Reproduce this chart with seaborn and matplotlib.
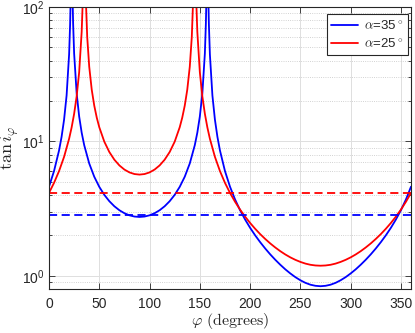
import matplotlib
matplotlib.use('Agg')
import matplotlib.pyplot as plt
import matplotlib.ticker as mticker
import seaborn as sns

# angle phi (degrees) and tan(i_phi), alpha = 35 deg
phi_blue = [0, 5, 10, 12.5, 15, 17.5, 20, 21, 21.5, 23.5, 24, 25, 27.5, 30, 32.5, 35,
            40, 45, 50, 55, 60, 65, 70, 75, 80, 85, 90, 95, 100, 105, 110, 115, 120,
            125, 130, 135, 140, 145, 147.5, 150, 152.5, 155, 156, 156.5, 158.5, 159,
            160, 162.5, 165, 167.5, 170, 175, 180, 185, 190, 195, 200, 205, 210, 215,
            220, 225, 230, 235, 240, 245, 250, 255, 260, 265, 270, 275, 280, 285, 290,
            295, 300, 305, 310, 315, 320, 325, 330, 335, 340, 345, 350, 355, 360]
tan_blue = [4.610, 6.026, 8.579, 10.815, 14.545, 22.01, 44.47, 74.45, 112.1, 111.7,
            74.8, 45.07, 22.78, 15.34, 11.623, 9.397, 6.864, 5.471, 4.599, 4.011, 3.597,
            3.298, 3.081, 2.928, 2.825, 2.766, 2.747, 2.766, 2.825, 2.928, 3.081, 3.298,
            3.597, 4.011, 4.599, 5.471, 6.864, 9.397, 11.623, 15.34, 22.78, 45.07, 74.8,
            111.7, 112.1, 74.45, 44.47, 22.01, 14.545, 10.815, 8.579, 6.026, 4.610,
            3.709, 3.086, 2.630, 2.281, 2.006, 1.784, 1.601, 1.448, 1.320, 1.212, 1.120,
            1.044, 0.980, 0.929, 0.889, 0.861, 0.845, 0.839, 0.845, 0.861, 0.889, 0.929,
            0.980, 1.044, 1.120, 1.212, 1.320, 1.448, 1.601, 1.784, 2.006, 2.281, 2.630,
            3.086, 3.709, 4.610]

# alpha = 25 deg
phi_red = [0, 5, 10, 15, 20, 22.5, 25, 27.5, 30, 32.5, 33.5, 36.5, 38, 40, 42.5, 45,
           47.5, 50, 55, 60, 65, 70, 75, 80, 85, 90, 95, 100, 105, 110, 115, 120, 125,
           130, 132.5, 135, 137.5, 140, 142, 143.5, 146.5, 147.5, 150, 152.5, 155,
           157.5, 160, 165, 170, 175, 180, 185, 190, 195, 200, 205, 210, 215, 220, 225,
           230, 235, 240, 245, 250, 255, 260, 265, 270, 275, 280, 285, 290, 295, 300,
           305, 310, 315, 320, 325, 330, 335, 340, 345, 350, 355, 360]
tan_red = [4.144, 4.924, 6.026, 7.690, 10.48, 12.717, 16.074, 21.66, 32.77, 65.48,
           107.5, 121.8, 59.84, 35.97, 24.26, 18.48, 15.036, 12.765, 9.972, 8.350,
           7.320, 6.637, 6.182, 5.889, 5.726, 5.673, 5.726, 5.889, 6.182, 6.637, 7.320,
           8.350, 9.972, 12.765, 15.036, 18.48, 24.26, 35.97, 59.84, 121.8, 107.5,
           65.48, 32.77, 21.66, 16.074, 12.717, 10.48, 7.690, 6.026, 4.924, 4.144,
           3.564, 3.117, 2.764, 2.478, 2.244, 2.048, 1.885, 1.746, 1.629, 1.529, 1.445,
           1.375, 1.318, 1.272, 1.236, 1.211, 1.197, 1.192, 1.197, 1.211, 1.236, 1.272,
           1.318, 1.375, 1.445, 1.529, 1.629, 1.746, 1.885, 2.048, 2.244, 2.478, 2.764,
           3.117, 3.564, 4.144]

# dashed reference levels
level_blue = 2.84
level_red = 4.14

labels = [r'$\alpha$=35$^\circ$', r'$\alpha$=25$^\circ$']

sns.set_style('ticks')
plt.rcParams['font.family'] = ['Liberation Sans', 'DejaVu Sans']
plt.rcParams['mathtext.fontset'] = 'cm'

edge = '#262626'
fig = plt.figure(figsize=(4.15, 3.33), dpi=100)
ax = fig.add_axes([49 / 415, 44 / 333, 362 / 415, 282 / 333])

sns.lineplot(x=phi_blue, y=tan_blue, color='#0000ff', lw=1.3, estimator=None,
             sort=False, ax=ax, label=labels[0])
sns.lineplot(x=phi_red, y=tan_red, color='#ff0000', lw=1.3, estimator=None,
             sort=False, ax=ax, label=labels[1])
ax.axhline(level_red, color='#ff0000', ls='--', dashes=(4.5, 2.5), lw=1.3)
ax.axhline(level_blue, color='#0000ff', ls='--', dashes=(4.5, 2.5), lw=1.3)

ax.set_yscale('log')
ax.set_xlim(0, 360)
ax.set_ylim(0.8, 100)
ax.set_xticks(range(0, 351, 50))
ax.xaxis.set_minor_locator(mticker.NullLocator())
ax.yaxis.set_minor_formatter(mticker.NullFormatter())

ax.set_axisbelow(True)
ax.grid(True, which='major', color='#dedede', lw=0.7, ls='-')
ax.grid(True, which='minor', axis='y', color='#c4c4c4', lw=0.6, ls=':')

ax.tick_params(which='both', direction='in', top=True, right=True, color=edge,
               labelcolor=edge, labelsize=10, width=0.6)
ax.tick_params(which='major', length=4)
ax.tick_params(which='minor', length=2)
ax.tick_params(axis='x', which='major', pad=6)
ax.tick_params(axis='y', which='major', pad=3)
for s in ax.spines.values():
    s.set_color(edge)
    s.set_linewidth(0.8)

ax.set_xlabel(r'$\varphi\ \mathrm{(degrees)}$', fontsize=11.5, color=edge, labelpad=0)
ax.set_ylabel(r'$\tan i_\varphi$', fontsize=13, color=edge, labelpad=1)

leg = ax.legend(loc='upper right', bbox_to_anchor=(0.9917, 0.975), borderaxespad=0,
                fancybox=False, edgecolor=edge, framealpha=1, fontsize=9.5,
                handlelength=2.0, borderpad=0.35, labelspacing=0.3, handletextpad=0.5)
leg.get_frame().set_linewidth(0.8)

fig.savefig('out.png', dpi=100)
